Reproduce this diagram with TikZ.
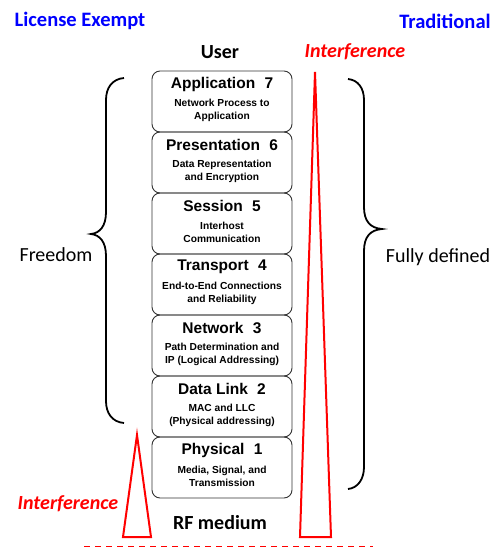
\documentclass[tikz,border=0pt]{standalone}
\usepackage{fontspec}
\setmainfont{Carlito}
\newfontfamily\arialfont{Liberation Sans}
\usetikzlibrary{calc}
\definecolor{lblue}{RGB}{0,0,255}
\definecolor{lred}{RGB}{255,0,0}
\tikzset{
  layerbox/.style={draw=black!80, line width=0.9pt, rounded corners=8pt, minimum width=140pt, minimum height=61pt, inner sep=0pt},
  layertitle/.style={font=\arialfont\bfseries\fontsize{15.5}{18}\selectfont, inner sep=0pt},
  layersub/.style={font=\arialfont\bfseries\fontsize{10.2}{13}\selectfont, align=center, inner sep=0pt},
  biglabel/.style={font=\fontsize{20}{24}\selectfont, inner sep=0pt},
  boldlabel/.style={font=\bfseries\fontsize{20}{24}\selectfont, inner sep=0pt},
  redlabel/.style={font=\bfseries\itshape\fontsize{20}{24}\selectfont, text=lred, inner sep=0pt},
  bluelabel/.style={font=\bfseries\fontsize{20.5}{24}\selectfont, text=lblue, inner sep=0pt},
  brace/.style={draw=black, line width=1.8pt},
  spike/.style={draw=lred, line width=2pt, line join=miter},
}
\begin{document}
\begin{tikzpicture}[x=1pt,y=-1pt]
\useasboundingbox (0,0) rectangle (497,547);
% layers
\foreach \n/\t/\sa/\sb [count=\i from 0] in {
  7/Application/{Network Process to}/Application,
  6/Presentation/{Data Representation}/{and Encryption},
  5/Session/Interhost/Communication,
  4/Transport/{End-to-End Connections}/{and Reliability},
  3/Network/{Path Determination and}/{IP (Logical Addressing)},
  2/Data Link/{MAC and LLC}/{(Physical addressing)},
  1/Physical/{Media, Signal, and}/Transmission}{
  \node[layerbox] (l\n) at (222,{71+30.5+61*\i}) {};
  \node[layertitle] (t\n) at ($(l\n.north)+(0,13.5)$) {\t\hspace{0.6em}\n};
  \node[layersub] (s\n) at ($(l\n.north)+(0,39.5)$) {\sa\\\sb};
}
% labels
\node[bluelabel] (lic) at (80,21) {License Exempt};
\node[bluelabel] (trad) at (445,21) {Traditional};
\node[boldlabel] (user) at (220,52) {User};
\node[redlabel] (intTop) at (355,52) {Interference};
\node[redlabel] (intBot) at (68,504) {Interference};
\node[boldlabel] (rf) at (220,523) {RF medium};
\node[biglabel] (free) at (56,255) {Freedom};
\node[biglabel] (full) at (438,257) {Fully defined};
% braces
\draw[brace] (124,78) .. controls (112,79) and (106,88) .. (106,100) -- (106,212)
  .. controls (106,226) and (100,233) .. (91,234)
  .. controls (100,235) and (106,242) .. (106,256) -- (106,401)
  .. controls (106,413) and (112,422) .. (124,423);
\draw[brace] (348,79) .. controls (358,80) and (364,88) .. (364,100) -- (364,207)
  .. controls (364,221) and (370,228) .. (382,229)
  .. controls (370,230) and (364,237) .. (364,251) -- (364,467)
  .. controls (364,479) and (358,488) .. (348,489);
% interference spikes
\draw[spike] (315,72) -- (331,537) -- (300,537) -- cycle;
\draw[spike] (137,435) -- (151,537) -- (123,537) -- cycle;
% RF medium dashed line
\draw[draw=lred, line width=1pt, dash pattern=on 6pt off 5pt] (84,546) -- (373,546);
\end{tikzpicture}
\end{document}
